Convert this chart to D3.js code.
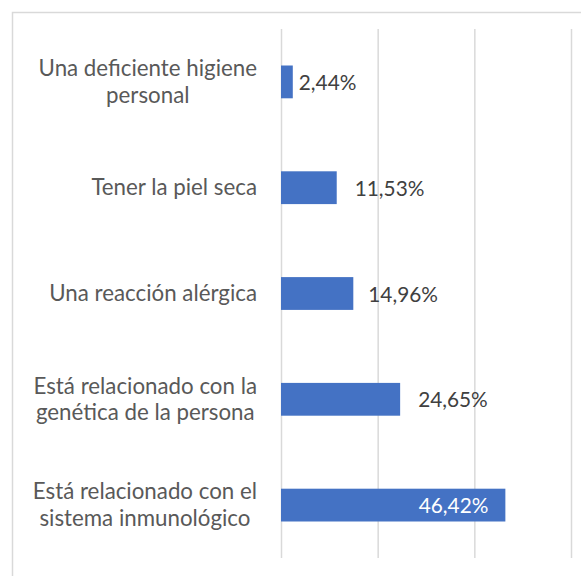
<!DOCTYPE html>
<html>
<head>
<meta charset="utf-8">
<script src="https://d3js.org/d3.v7.min.js"></script>
<style>
    body { margin: 0; background: #fff; }
    svg { display: block; }
    .cat { fill: #595959; }
    .val { fill: #404040; }
</style>
</head>
<body>
<div id="chart"></div>
<script>
// Data
const categories = [
    ["Una deficiente higiene", "personal"],
    ["Tener la piel seca"],
    ["Una reacción alérgica"],
    ["Está relacionado con la", "genética de la persona"],
    ["Está relacionado con el", "sistema inmunológico"]
];
const values = [2.44, 11.53, 14.96, 24.65, 46.42];
const labels = ["2,44%", "11,53%", "14,96%", "24,65%", "46,42%"];
const gridTicks = [0, 20, 40, 60];

const W = 581, H = 576;
const font = "Lato, 'Open Sans', sans-serif";
const catSize = 22.3;
const valSize = 20.8;
// label gap after bar end (Excel placed them a bit unevenly)
const labelGap = [6, 18, 15, 18];

const svg = d3.select("#chart").append("svg")
    .attr("width", W)
    .attr("height", H)
    .style("font-family", font);

// chart frame (runs off the right and bottom edge)
svg.append("rect")
    .attr("x", 12.5).attr("y", 12.5)
    .attr("width", 700).attr("height", 700)
    .attr("fill", "#fff")
    .attr("stroke", "#d9d9d9")
    .attr("stroke-width", 1.5);

const x = d3.scaleLinear().domain([0, 60]).range([281, 571]);
const y = d3.scaleBand()
    .domain(d3.range(categories.length))
    .range([29, 558])
    .paddingInner(0.69)
    .paddingOuter(0.345);

// gridlines
svg.append("g")
    .attr("transform", "translate(0,558)")
    .call(d3.axisBottom(x).tickValues(gridTicks).tickSize(-(558 - 29)).tickFormat(""))
    .call(g => g.select(".domain").remove())
    .call(g => g.selectAll(".tick line").attr("stroke", "#d9d9d9").attr("stroke-width", 1.5));

// bars
svg.append("g").selectAll("rect")
    .data(values)
    .join("rect")
    .attr("x", x(0))
    .attr("y", (d, i) => y(i))
    .attr("width", d => x(d) - x(0))
    .attr("height", y.bandwidth())
    .attr("fill", "#4472c4");

// value labels: last one sits inside the bar end in white
const maxV = d3.max(values);
svg.append("g").selectAll("text")
    .data(values)
    .join("text")
    .attr("class", (d, i) => d === maxV ? "" : "val")
    .attr("fill", d => d === maxV ? "#fff" : null)
    .attr("font-size", valSize)
    .attr("text-anchor", d => d === maxV ? "end" : "start")
    .attr("x", (d, i) => d === maxV ? x(d) - 17 : x(d) + labelGap[i])
    .attr("y", (d, i) => y(i) + y.bandwidth() / 2 + 8)
    .text((d, i) => labels[i]);

// category labels: lines centred within a block right-aligned at 257
const catRight = 257;
const lineH = 26.6;
const catG = svg.append("g");
categories.forEach((lines, i) => {
    const cy = y(i) + y.bandwidth() / 2;
    const t = catG.append("text")
        .attr("class", "cat")
        .attr("font-size", catSize)
        .attr("text-anchor", "middle");
    const spans = lines.map((s, j) => t.append("tspan").text(s));
    const maxW = d3.max(spans, s => s.node().getComputedTextLength());
    const y0 = cy + 7.5 - (lines.length - 1) * lineH / 2;
    spans.forEach((s, j) => s.attr("x", catRight - maxW / 2).attr("y", y0 + j * lineH));
});
</script>
</body>
</html>
